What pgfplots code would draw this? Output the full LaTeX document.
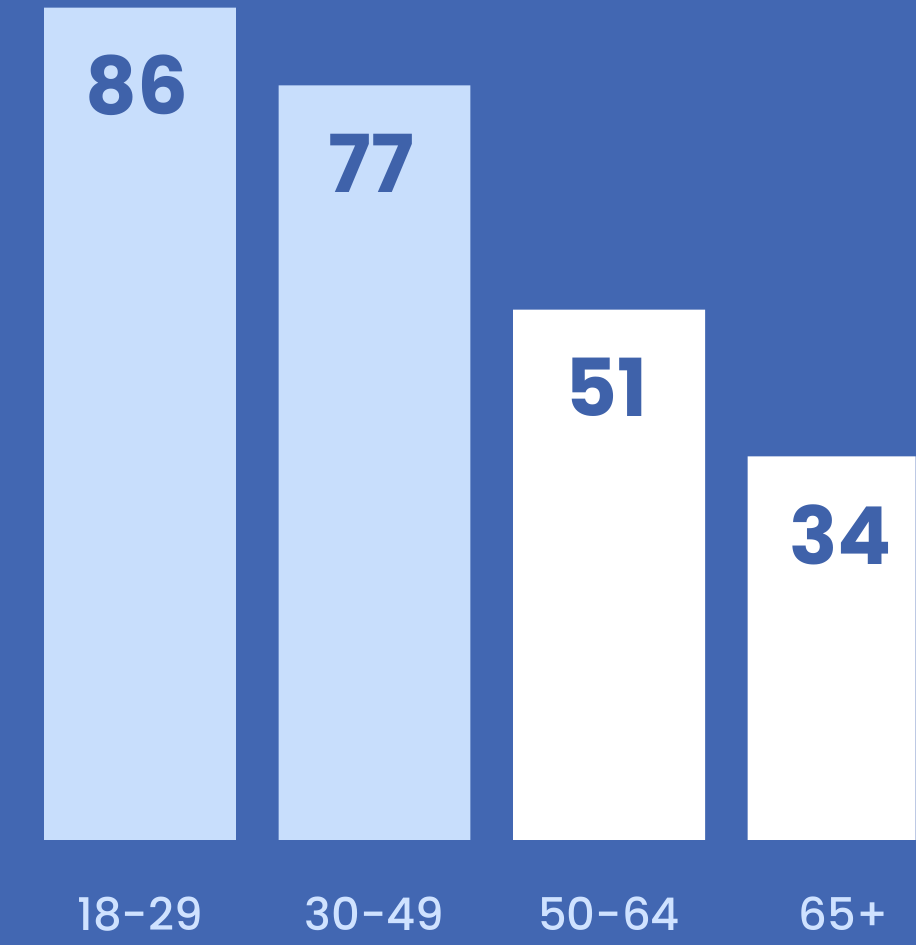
\documentclass[border=0pt]{standalone}
\usepackage{fontspec}
\setmainfont{Poppins}
\newfontfamily\popmed{Poppins Medium}
\usepackage{pgfplots}
\usepackage{pgfplotstable}
\pgfplotsset{compat=1.18}
\definecolor{bg}{HTML}{4267B2}
\definecolor{lightbar}{HTML}{C8DEFC}
\definecolor{txt}{HTML}{3F62AA}
\definecolor{ticktxt}{HTML}{CFE2FF}
\pgfplotstableread{
x v
0 86
1 77
}\dataA
\pgfplotstableread{
x v
2 51
3 34
}\dataB
\begin{document}
\begin{tikzpicture}
\begin{axis}[
  scale only axis, width=458pt, height=472.5pt,
  xmin=-0.597, xmax=3.307, ymin=-12.16, ymax=97.30,
  axis background/.style={fill=bg},
  axis line style={draw=none},
  ytick=\empty, xtick={0,1,2,3}, xticklabels={18-29,30-49,50-64,65+},
  major tick length=0pt,
  xticklabel style={anchor=center, yshift=15.5pt, text=ticktxt, font=\popmed\fontsize{22.5}{22.5}\selectfont},
  ybar, bar width=0.818, /pgf/bar shift=0pt,
  nodes near coords={\pgfplotspointmeta}, point meta=explicit symbolic,
  every node near coord/.style={anchor=center, yshift=-39pt, xshift=-1.5pt, text=txt, font=\bfseries\fontsize{40}{40}\selectfont},
]
\addplot[fill=lightbar, draw=none] table[x=x, y expr=\thisrow{v}+10.43, meta=v]{\dataA};
\addplot[fill=white, draw=none] table[x=x, y expr=\thisrow{v}+10.43, meta=v]{\dataB};
\end{axis}
\end{tikzpicture}
\end{document}
